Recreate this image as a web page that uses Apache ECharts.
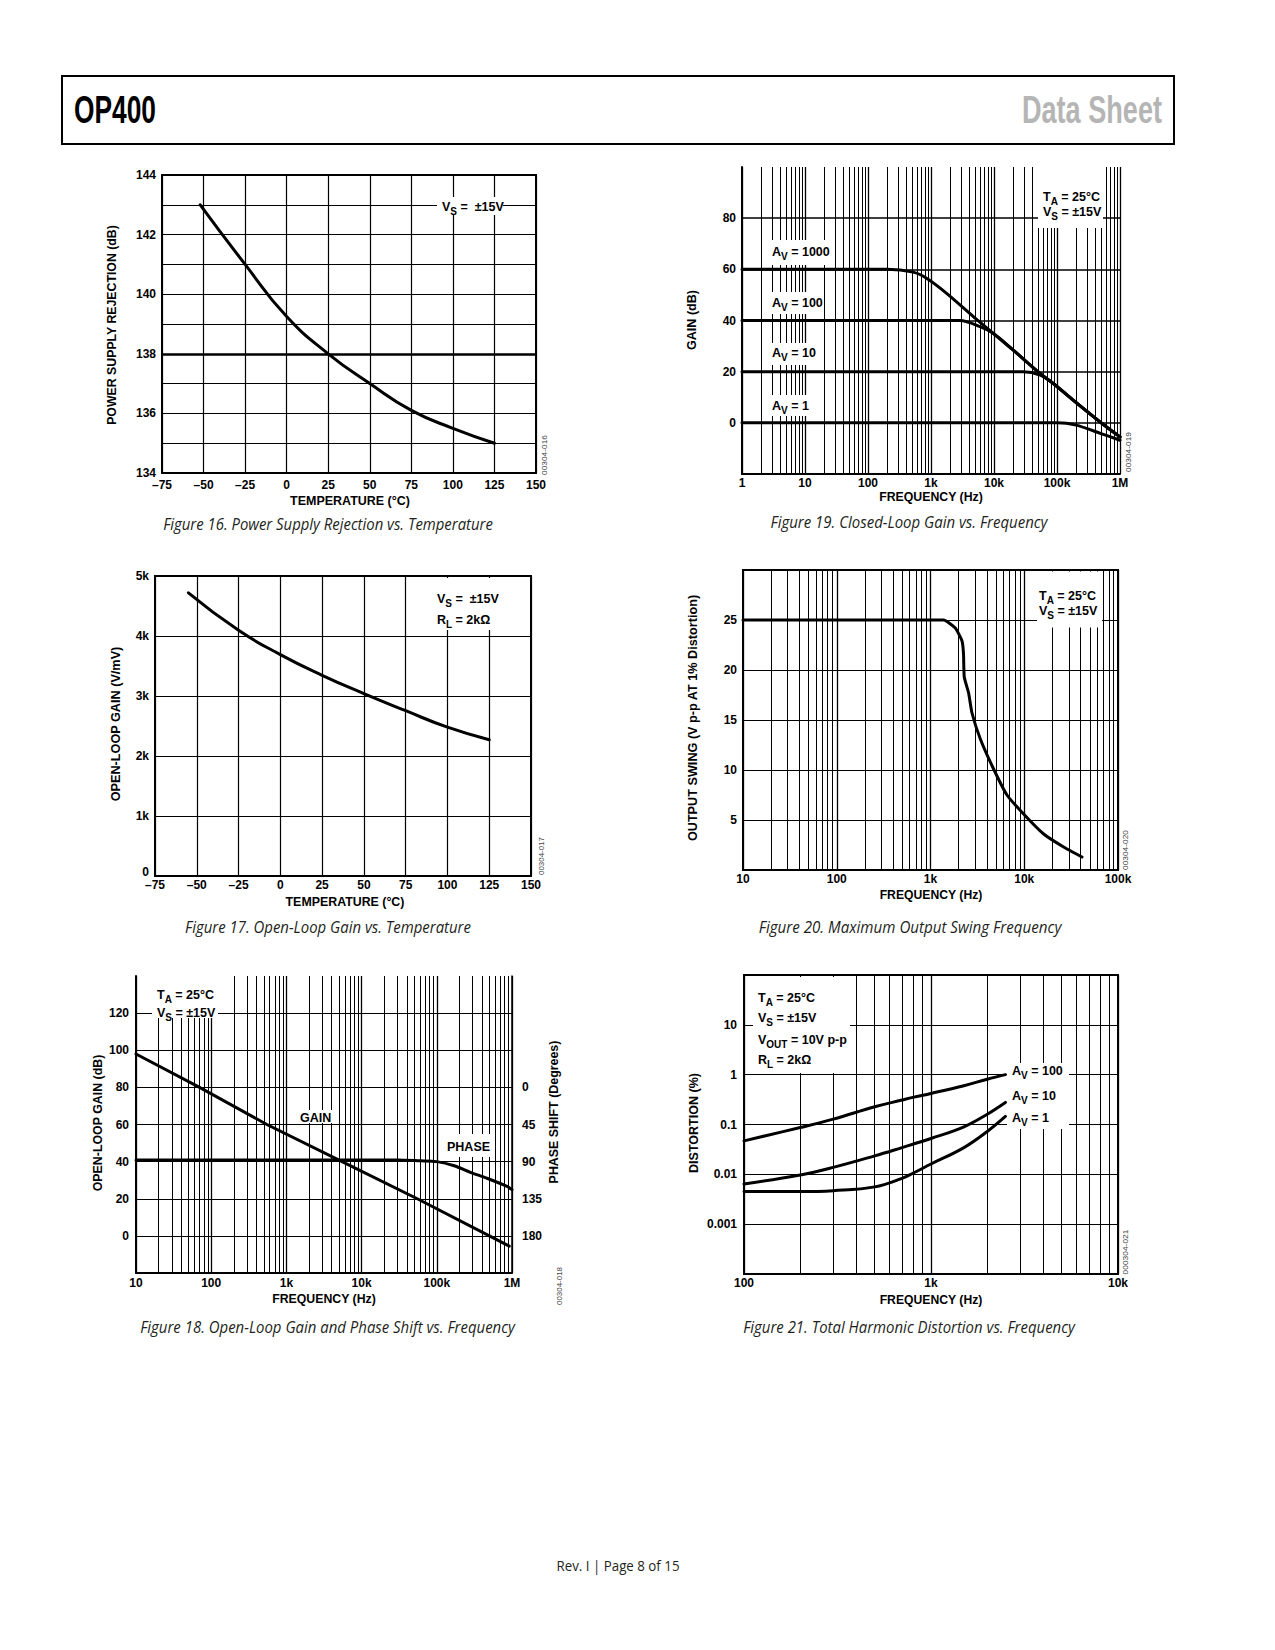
<!DOCTYPE html>
<html><head><meta charset="utf-8">
<script src="https://cdn.jsdelivr.net/npm/echarts@6/dist/echarts.min.js"></script>
<style>html,body{margin:0;padding:0;background:#fff}#c{width:1275px;height:1650px}</style>
</head><body><div id="c"></div><script>
// ---------------- DATA ----------------
const fig16Temp = [-52, -25, 0, 25, 50, 75, 100, 125];
const fig16Psr  = [143.0, 141.0, 139.25, 138.0, 137.0, 136.1, 135.5, 135.0];
const fig16XTicks = ['\u201375','\u201350','\u201325','0','25','50','75','100','125','150'];
const fig16YTicks = ['134','136','138','140','142','144'];

const fig17Temp = [-55, -25, 0, 25, 50, 75, 100, 125];
const fig17Gain = [4720, 4095, 3690, 3345, 3040, 2755, 2480, 2270];
const fig17XTicks = ['\u201375','\u201350','\u201325','0','25','50','75','100','125','150'];
const fig17YTicks = ['0','1k','2k','3k','4k','5k'];

const fig18Freq = [10, 70, 550, 5500, 55000, 500000, 920000];
const fig18Gain = [98, 80, 60, 40, 20, 0, -5.5];
const fig18PhaseFreq = [10, 1000, 30000, 60000, 100000, 170000, 280000, 460000, 860000, 1000000];
const fig18Phase = [88, 88, 88, 89, 90, 95, 103, 110, 120, 124];
const fig18XTicks = ['10','100','1k','10k','100k','1M'];
const fig18GainTicks = ['0','20','40','60','80','100','120'];
const fig18PhaseTicks = ['0','45','90','135','180'];

const fig19Freq1000 = [1, 200, 520, 850, 1770, 4700, 9700, 20000, 54000, 87000, 180000, 480000, 1000000];
const fig19Av1000   = [60, 60, 58.9, 56.5, 50.6, 41.5, 35.0, 28.5, 19.3, 15.4, 8.9, 0.4, -5.5];
const fig19Freq100  = [1, 2900, 6000, 9700, 20000, 54000, 87000, 180000, 480000, 1000000];
const fig19Av100    = [40, 40, 37.6, 35.0, 28.5, 19.3, 15.4, 8.9, 0.4, -5.5];
const fig19Freq10   = [1, 29000, 54000, 87000, 180000, 480000, 1000000];
const fig19Av10     = [20, 20, 18.7, 15.4, 8.9, 0.4, -5.5];
const fig19Freq1    = [1, 100000, 200000, 500000, 1000000];
const fig19Av1      = [0, 0, -0.9, -4.2, -6.8];
const fig19XTicks = ['1','10','100','1k','10k','100k','1M'];
const fig19YTicks = ['0','20','40','60','80'];

const fig20Freq  = [10, 1380, 1840, 2170, 2250, 2290, 2550, 2770, 3400, 4710, 6540, 9840, 16100, 26300, 41300];
const fig20Swing = [25, 25, 24.2, 22.9, 21.6, 19.3, 17.7, 15.7, 13.1, 10.1, 7.5, 5.6, 3.6, 2.3, 1.3];
const fig20XTicks = ['10','100','1k','10k','100k'];
const fig20YTicks = ['5','10','15','20','25'];

const fig21Freq  = [100, 200, 300, 500, 700, 800, 1000, 1500, 2000, 2500];
const fig21Av100 = [0.047, 0.087, 0.128, 0.227, 0.31, 0.35, 0.42, 0.6, 0.81, 1.0];
const fig21Av10  = [0.0064, 0.0097, 0.0138, 0.0235, 0.0344, 0.0402, 0.0523, 0.0898, 0.161, 0.277];
const fig21Av1   = [0.0045, 0.0045, 0.0047, 0.0056, 0.0083, 0.0105, 0.0161, 0.0344, 0.0725, 0.145];
const fig21XTicks = ['100','1k','10k'];
const fig21YTicks = ['0.001','0.01','0.1','1','10'];

// ---------------- HELPERS ----------------
const SANS = "'Liberation Sans', Arial, sans-serif";
function zip(a, b) { return a.map((v, i) => [v, b[i]]); }
function listFmt(ticks) { return v => ticks.indexOf(String(v)) >= 0 ? String(v) : ''; }
function idxFmt(ticks, min, step) { return v => { const t = ticks[Math.round((v - min) / step)]; return t === undefined ? '' : t; }; }
function logFmt(ticks, minExp) { return v => { const t = ticks[Math.round(Math.log10(v)) - minExp]; return t === undefined ? '' : t; }; }
function lbl(fmt, margin) {
  return { show: true, formatter: fmt, margin: margin, fontFamily: SANS, fontWeight: 'bold', fontSize: 12, color: '#000',
           showMinLabel: true, showMaxLabel: true, hideOverlap: false };
}
const AXL = { show: true, onZero: false, lineStyle: { color: '#000', width: 2 } };
const NOTICK = { show: false };
function split(w, hideEnds) {
  const s = { show: true, lineStyle: { color: '#000', width: w || 1 } };
  if (hideEnds) { s.showMinLine = false; s.showMaxLine = false; }
  return s;
}
function minor(e0, e1) {
  const out = [];
  for (let e = e0; e <= e1; e++) for (let k = 2; k <= 9; k++) out.push({ xAxis: k * Math.pow(10, e) });
  return out;
}
function curve(xi, yi, xs, ys, smooth) {
  return { type: 'line', xAxisIndex: xi, yAxisIndex: yi, data: zip(xs, ys), showSymbol: false, symbol: 'none',
           smooth: smooth, lineStyle: { color: '#000', width: 3, cap: 'round', join: 'round' }, itemStyle: { color: '#000' },
           silent: true, z: 5, animation: false };
}
function gridLines(xi, yi, pt, lines, width) {
  return { type: 'line', xAxisIndex: xi, yAxisIndex: yi, data: [pt], showSymbol: false, symbol: 'none',
           lineStyle: { opacity: 0 }, silent: true, z: 3, animation: false,
           markLine: { silent: true, animation: false, symbol: ['none', 'none'], label: { show: false },
                       lineStyle: { color: '#000', width: width || 1, type: 'solid' }, emphasis: { disabled: true }, data: lines } };
}
const mctx = document.createElement('canvas').getContext('2d');
function fitted(text, x, y, font, width, o) {
  o = o || {};
  mctx.font = font;
  const w = mctx.measureText(text).width || 1;
  return { type: 'text', x: x, y: y, z: 100, rotation: o.rot || 0, scaleX: width / w,
           style: { text: text, font: font, fill: o.fill || '#000', align: o.align || 'center', verticalAlign: 'middle' } };
}
function ann(x, y, tokens) {
  const text = tokens.map(t => '{' + (t[1] ? 's' : 'm') + '|' + t[0] + '}').join('');
  return { type: 'text', x: x, y: y, z: 102,
           style: { text: text, align: 'left', verticalAlign: 'middle',
                    rich: { m: { font: 'bold 12.5px ' + SANS, fill: '#000', lineHeight: 18 },
                            s: { font: 'bold 10px ' + SANS, fill: '#000', lineHeight: 11, verticalAlign: 'bottom' } } } };
}
function box(x, y, w, h) { return { type: 'rect', z: 101, shape: { x: x, y: y, width: w, height: h }, style: { fill: '#fff', stroke: 'none' } }; }

// ---------------- OPTION ----------------
const TF = 'bold 13px ' + SANS;
const CF = 'italic 16px "Open Sans", sans-serif';
const IF = '7.5px ' + SANS;
const R90 = Math.PI / 2;

const graphic = [
  { type: 'rect', z: 100, shape: { x: 62, y: 76, width: 1112, height: 68 }, style: { fill: 'none', stroke: '#000', lineWidth: 2 } },
  fitted('OP400', 74, 110, 'bold 38px ' + SANS, 82, { align: 'left' }),
  fitted('Data Sheet', 1162, 110, 'bold 38px ' + SANS, 140, { align: 'right', fill: '#b5b5b5' }),
  fitted('Rev. I | Page 8 of 15', 618, 1565, '14px "Open Sans", sans-serif', 123, { fill: '#231f20' }),
  // captions
  fitted('Figure 16. Power Supply Rejection vs. Temperature', 328, 524, CF, 330, { fill: '#231f20' }),
  fitted('Figure 17. Open-Loop Gain vs. Temperature', 328, 927, CF, 286, { fill: '#231f20' }),
  fitted('Figure 18. Open-Loop Gain and Phase Shift vs. Frequency', 327.5, 1327, CF, 375, { fill: '#231f20' }),
  fitted('Figure 19. Closed-Loop Gain vs. Frequency', 909, 522, CF, 277, { fill: '#231f20' }),
  fitted('Figure 20. Maximum Output Swing Frequency', 910, 927, CF, 303, { fill: '#231f20' }),
  fitted('Figure 21. Total Harmonic Distortion vs. Frequency', 909, 1327, CF, 332, { fill: '#231f20' }),
  // axis titles
  fitted('TEMPERATURE (\u00B0C)', 350, 500, TF, 120),
  fitted('POWER SUPPLY REJECTION (dB)', 112, 325, TF, 200, { rot: R90 }),
  fitted('TEMPERATURE (\u00B0C)', 345, 902, TF, 119),
  fitted('OPEN-LOOP GAIN (V/mV)', 115, 724, TF, 155, { rot: R90 }),
  fitted('FREQUENCY (Hz)', 324, 1299, TF, 104),
  fitted('OPEN-LOOP GAIN (dB)', 98, 1123, TF, 137, { rot: R90 }),
  fitted('PHASE SHIFT (Degrees)', 553, 1112, TF, 143, { rot: R90 }),
  fitted('FREQUENCY (Hz)', 931, 497, TF, 104),
  fitted('GAIN (dB)', 691, 320, TF, 60, { rot: R90 }),
  fitted('FREQUENCY (Hz)', 931, 895, TF, 103),
  fitted('OUTPUT SWING (V p-p AT 1% Distortion)', 692, 718, TF, 247, { rot: R90 }),
  fitted('FREQUENCY (Hz)', 931, 1300, TF, 103),
  fitted('DISTORTION (%)', 693, 1123, TF, 100, { rot: R90 }),
  // figure ids
  fitted('00304-016', 545, 455, IF, 40, { rot: R90, fill: '#444' }),
  fitted('00304-017', 542, 856, IF, 38, { rot: R90, fill: '#444' }),
  fitted('00304-018', 560, 1286, IF, 38, { rot: R90, fill: '#444' }),
  fitted('00304-019', 1129, 452, IF, 40, { rot: R90, fill: '#444' }),
  fitted('00304-020', 1126, 850, IF, 40, { rot: R90, fill: '#444' }),
  fitted('000304-021', 1126, 1252, IF, 45, { rot: R90, fill: '#444' }),
  // fig16 annotation
  box(437, 197, 66, 18), ann(442, 207, [['V'], ['S', 1], [' =  \u00B115V']]),
  // fig17 annotation
  box(428, 578, 77, 52), ann(437, 599, [['V'], ['S', 1], [' =  \u00B115V']]), ann(437, 620, [['R'], ['L', 1], [' = 2k\u03A9']]),
  // fig19 annotations
  box(1038, 167, 65, 61), ann(1043, 197, [['T'], ['A', 1], [' = 25\u00B0C']]), ann(1043, 212, [['V'], ['S', 1], [' = \u00B115V']]),
  box(767, 240, 63, 25), ann(772, 252, [['A'], ['V', 1], [' = 1000']]),
  box(767, 292, 56, 22), ann(772, 303, [['A'], ['V', 1], [' = 100']]),
  box(767, 343, 49, 22), ann(772, 353, [['A'], ['V', 1], [' = 10']]),
  box(767, 395, 42, 21), ann(772, 406, [['A'], ['V', 1], [' = 1']]),
  // fig20 annotation
  box(1037, 571.5, 65, 56), ann(1039, 596, [['T'], ['A', 1], [' = 25\u00B0C']]), ann(1039, 611, [['V'], ['S', 1], [' = \u00B115V']]),
  // fig18 annotations
  box(152, 976, 66, 42), ann(157, 995, [['T'], ['A', 1], [' = 25\u00B0C']]), ann(157, 1013, [['V'], ['S', 1], [' = \u00B115V']]),
  box(297, 1110, 38, 13), ann(300, 1118, [['GAIN']]),
  box(445, 1134, 45, 23), ann(447, 1147, [['PHASE']]),
  // fig21 annotations
  box(753, 977, 97, 96),
  ann(758, 998, [['T'], ['A', 1], [' = 25\u00B0C']]),
  ann(758, 1018, [['V'], ['S', 1], [' = \u00B115V']]),
  ann(758, 1040, [['V'], ['OUT', 1], [' = 10V p-p']]),
  ann(758, 1060, [['R'], ['L', 1], [' = 2k\u03A9']]),
  box(1007, 1063, 62, 66),
  ann(1012, 1071, [['A'], ['V', 1], [' = 100']]),
  ann(1012, 1096, [['A'], ['V', 1], [' = 10']]),
  ann(1012, 1118, [['A'], ['V', 1], [' = 1']])
];

// fig17 y labels: lift the "0" label a little so it clears the x-axis labels
const fig17YLabel = lbl(v => { const t = idxFmt(fig17YTicks, 0, 1000)(v); return t === '0' ? '{z|0}' : t; }, 6);
fig17YLabel.rich = { z: { fontFamily: SANS, fontWeight: 'bold', fontSize: 12, color: '#000', padding: [0, 0, 9, 0] } };

const GB = { show: true, borderColor: '#000', borderWidth: 2, backgroundColor: 'transparent', outerBoundsMode: 'none', containLabel: false };
const option = {
  backgroundColor: '#fff',
  animation: false,
  textStyle: { fontFamily: SANS },
  grid: [
    Object.assign({ left: 162, top: 175, width: 374, height: 298 }, GB),
    Object.assign({ left: 155, top: 576, width: 376, height: 300 }, GB),
    { left: 136, top: 976, width: 376, height: 297, outerBoundsMode: 'none', containLabel: false },
    { left: 742, top: 167, width: 378, height: 307, outerBoundsMode: 'none', containLabel: false },
    Object.assign({ left: 743, top: 570, width: 375, height: 300 }, GB),
    Object.assign({ left: 744, top: 975, width: 374, height: 299 }, GB)
  ],
  xAxis: [
    { gridIndex: 0, type: 'value', min: -75, max: 150, interval: 25, axisLine: AXL, axisTick: NOTICK, splitLine: split(1.2), axisLabel: lbl(idxFmt(fig16XTicks, -75, 25), 6) },
    { gridIndex: 1, type: 'value', min: -75, max: 150, interval: 25, axisLine: AXL, axisTick: NOTICK, splitLine: split(1.2), axisLabel: lbl(idxFmt(fig17XTicks, -75, 25), 3) },
    { gridIndex: 2, type: 'log', logBase: 10, min: 10, max: 1000000, splitNumber: 5, axisLine: AXL, axisTick: NOTICK, minorTick: { show: false }, splitLine: split(1.3), axisLabel: lbl(logFmt(fig18XTicks, 1), 4) },
    { gridIndex: 3, type: 'log', logBase: 10, min: 1, max: 1000000, splitNumber: 6, axisLine: AXL, axisTick: NOTICK, minorTick: { show: false }, splitLine: split(1.3), axisLabel: lbl(logFmt(fig19XTicks, 0), 3) },
    { gridIndex: 4, type: 'log', logBase: 10, min: 10, max: 100000, splitNumber: 4, axisLine: AXL, axisTick: NOTICK, minorTick: { show: false }, splitLine: split(1.3), axisLabel: lbl(logFmt(fig20XTicks, 1), 3) },
    { gridIndex: 5, type: 'log', logBase: 10, min: 100, max: 10000, splitNumber: 2, axisLine: AXL, axisTick: NOTICK, minorTick: { show: false }, splitLine: split(1.3), axisLabel: lbl(logFmt(fig21XTicks, 2), 3) }
  ],
  yAxis: [
    { gridIndex: 0, type: 'value', min: 134, max: 144, interval: 1, axisLine: AXL, axisTick: NOTICK, splitLine: split(1.2), axisLabel: lbl(listFmt(fig16YTicks), 6) },
    { gridIndex: 1, type: 'value', min: 0, max: 5000, interval: 1000, axisLine: AXL, axisTick: NOTICK, splitLine: split(1.2), axisLabel: fig17YLabel },
    { gridIndex: 2, type: 'value', min: -20, max: 140, interval: 20, axisLine: AXL, axisTick: NOTICK, splitLine: split(1.2, true), axisLabel: lbl(listFmt(fig18GainTicks), 7) },
    { gridIndex: 2, type: 'value', position: 'right', inverse: true, min: -135, max: 225, interval: 45, axisLine: { show: true, onZero: false, lineStyle: { color: '#000', width: 1.5 } }, axisTick: NOTICK, splitLine: { show: false }, axisLabel: lbl(listFmt(fig18PhaseTicks), 10) },
    { gridIndex: 3, type: 'value', min: -20, max: 100, interval: 20, axisLine: AXL, axisTick: NOTICK, splitLine: split(1.5, true), axisLabel: lbl(listFmt(fig19YTicks), 6) },
    { gridIndex: 4, type: 'value', min: 0, max: 30, interval: 5, axisLine: AXL, axisTick: NOTICK, splitLine: split(1.2), axisLabel: lbl(listFmt(fig20YTicks), 6) },
    { gridIndex: 5, type: 'log', logBase: 10, min: 0.0001, max: 100, splitNumber: 6, axisLine: AXL, axisTick: NOTICK, minorTick: { show: false }, splitLine: split(1.2), axisLabel: lbl(logFmt(fig21YTicks, -3), 7) }
  ],
  series: [
    // gridline helpers
    gridLines(0, 0, [0, 138], [{ yAxis: 138 }], 2.5),
    gridLines(2, 2, [10, 0], minor(1, 5), 1),
    gridLines(3, 4, [1, 0], minor(0, 5), 1),
    gridLines(4, 5, [10, 5], minor(1, 4), 1),
    gridLines(5, 6, [100, 0.01], minor(2, 3), 1),
    // curves
    curve(0, 0, fig16Temp, fig16Psr, 0.5),
    curve(1, 1, fig17Temp, fig17Gain, 0.5),
    curve(2, 2, fig18Freq, fig18Gain, false),
    curve(2, 3, fig18PhaseFreq, fig18Phase, 0.3),
    curve(3, 4, fig19Freq1000, fig19Av1000, 0.3),
    curve(3, 4, fig19Freq100, fig19Av100, 0.3),
    curve(3, 4, fig19Freq10, fig19Av10, 0.3),
    curve(3, 4, fig19Freq1, fig19Av1, 0.3),
    curve(4, 5, fig20Freq, fig20Swing, 0.15),
    curve(5, 6, fig21Freq, fig21Av100, 0.4),
    curve(5, 6, fig21Freq, fig21Av10, 0.4),
    curve(5, 6, fig21Freq, fig21Av1, 0.4)
  ],
  graphic: graphic
};
const chart = echarts.init(document.getElementById('c'), null, { renderer: 'svg', width: 1275, height: 1650 });
chart.setOption(option);
</script></body></html>
